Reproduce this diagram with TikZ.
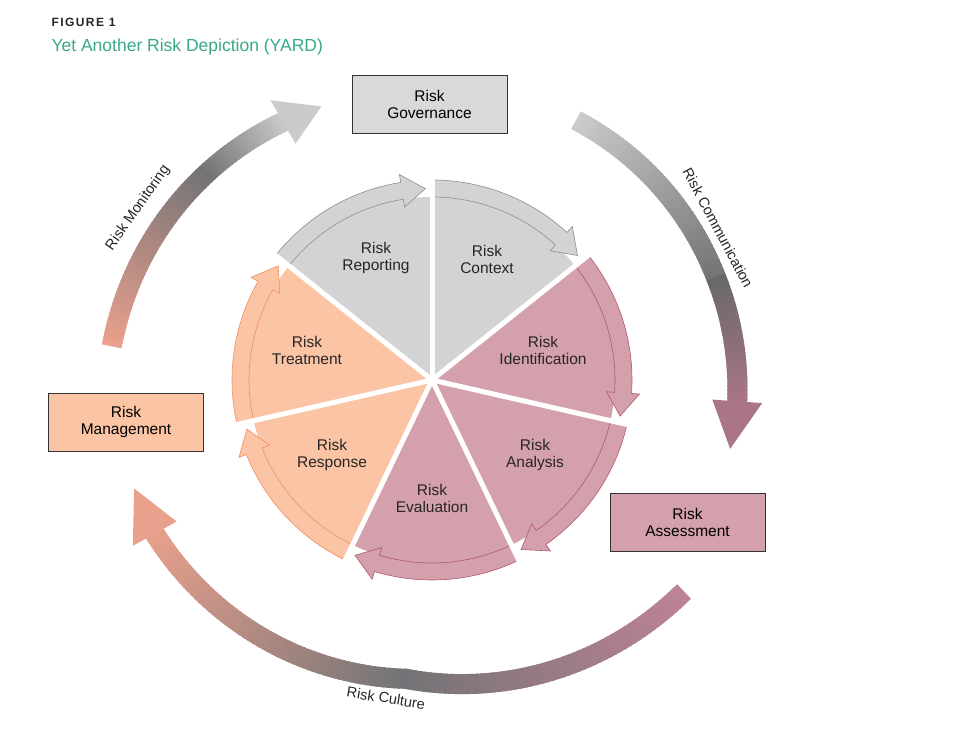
\documentclass[tikz,border=0pt]{standalone}
\usepackage{fontspec}
\setmainfont{Liberation Sans}
\begin{document}
\begin{tikzpicture}[x=1pt,y=1pt,
  lbl/.style={font=\fontsize{15.5}{17}\selectfont, align=center, text=black!85},
  boxn/.style={draw=black!80, line width=0.8pt, minimum width=155pt, minimum height=58pt, align=center, font=\fontsize{15.5}{17}\selectfont},
  arclbl/.style={font=\fontsize{14.5}{15}\selectfont, text=black!85}]
\definecolor{gw}{HTML}{D3D3D5}\definecolor{gs}{HTML}{8E8E92}
\definecolor{pw}{HTML}{D4A0AB}\definecolor{ps}{HTML}{B0566E}
\definecolor{ow}{HTML}{FBC4A5}\definecolor{os}{HTML}{F08E64}
\definecolor{salm}{HTML}{E9A08C}\definecolor{dg}{HTML}{737376}
\definecolor{lg}{HTML}{CBCBCD}\definecolor{pk}{HTML}{BD8296}
\definecolor{teal}{HTML}{3AA88A}\definecolor{bxg}{HTML}{D9D9DA}
\useasboundingbox[fill=white] (0,0) rectangle (969,730);
\node[anchor=west, font=\bfseries\fontsize{12}{13}\selectfont\addfontfeature{LetterSpace=12}, text=black!85] (fig) at (48,708) {FIGURE 1};
\node[anchor=west, font=\fontsize{17.5}{18}\selectfont, text=teal] (ttl) at (48,683) {Yet Another Risk Depiction (YARD)};
\newcommand\gradarc[7]{%
  \foreach \i in {0,...,#7}{%
    \pgfmathsetmacro\ta{\i/(#7+1)}%
    \pgfmathsetmacro\tb{(\i+1.6)/(#7+1)}%
    \pgfmathsetmacro\aa{#1+\ta*(#2-#1)}\pgfmathsetmacro\ab{#1+\tb*(#2-#1)}%
    \pgfmathsetmacro\ra{#3+\ta*(#4-#3)}\pgfmathsetmacro\rb{#3+\tb*(#4-#3)}%
    \pgfmathsetmacro\pp{100*(1-\ta)}%
    \colorlet{cc}{#5!\pp!#6}%
    \draw[cc, line width=20pt] (\aa:\ra) -- (\ab:\rb);}}
\newcommand\wedgearrow[4]{%
  \pgfmathsetmacro\hb{#2+9}\pgfmathsetmacro\tp{#2+2}%
  \fill[#3] (0,0) -- (#1:183) arc[start angle=#1, end angle=#2, radius=183] -- cycle;
  \filldraw[fill=#3, draw=#4, line width=0.6pt] (#1:183) -- (#1:200) arc[start angle=#1, end angle=\hb, radius=200] -- (\hb:208) -- (\tp:191.5) -- (\hb:175) -- (\hb:183) arc[start angle=\hb, end angle=#1, radius=183] -- cycle;}
\begin{scope}[shift={(432,350)}]
  \wedgearrow{141.43}{90}{gw}{gs}
  \wedgearrow{90}{38.57}{gw}{gs}
  \wedgearrow{38.57}{-12.86}{pw}{ps}
  \wedgearrow{-12.86}{-64.29}{pw}{ps}
  \wedgearrow{-64.29}{-115.71}{pw}{ps}
  \wedgearrow{-115.71}{-167.14}{ow}{os}
  \wedgearrow{-167.14}{-218.57}{ow}{os}
  \foreach \a in {90,38.57,-12.86,-64.29,-115.71,-167.14,141.43}
    \draw[white, line width=5pt] (0,0) -- (\a:216);
  % outer arrows
  \gradarc{174}{138}{322}{306}{salm}{dg}{40}
  \gradarc{138}{120}{306}{298}{dg}{lg}{20}
  \fill[lg] (120:273) -- (120:323) -- (112:295) -- cycle;
  \gradarc{61}{20}{297}{302}{lg}{dg}{40}
  \gradarc{20}{-4}{302}{306}{dg}{pk!90!black}{30}
  \fill[pk!90!black] (-4:281) -- (-4:331) -- (-13:306) -- cycle;
  \gradarc{-40}{-95}{329}{300}{pk}{dg}{55}
  \gradarc{-95}{-151}{300}{317}{dg}{salm}{55}
  \fill[salm] (-151:292) -- (-151:342) -- (-160:317) -- cycle;
  \node[lbl] (rep) at (-56,122) {Risk\\Reporting};
  \node[lbl] (ctx) at (55,121) {Risk\\Context};
  \node[lbl] (ide) at (111,30) {Risk\\Identification};
  \node[lbl] (ana) at (103,-75) {Risk\\Analysis};
  \node[lbl] (eva) at (0,-118) {Risk\\Evaluation};
  \node[lbl] (res) at (-100,-75) {Risk\\Response};
  \node[lbl] (tre) at (-125,30) {Risk\\Treatment};
\end{scope}
\node[arclbl, rotate=55] (mon) at (138,522) {Risk Monitoring};
\node[arclbl, rotate=-62] (com) at (718,502) {Risk Communication};
\node[arclbl, rotate=-9] (cul) at (386,32) {Risk Culture};
\node[boxn, fill=bxg] (gov) at (429.5,626) {Risk\\Governance};
\node[boxn, fill=ow] (man) at (126,308) {Risk\\Management};
\node[boxn, fill=pw] (ass) at (687.5,208) {Risk\\Assessment};
\end{tikzpicture}
\end{document}
